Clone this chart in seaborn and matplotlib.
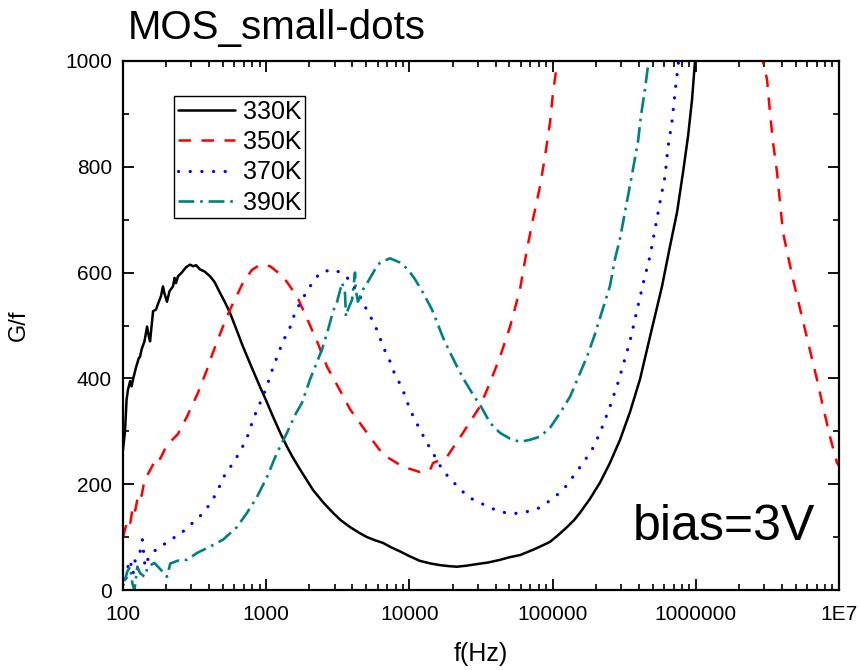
import numpy as np
import pandas as pd
import matplotlib
matplotlib.use("Agg")
import matplotlib.pyplot as plt
import matplotlib.ticker as mticker
import seaborn as sns

# ---------------- data (log10 of frequency in Hz, G/f) ----------------
k330_logf = [2.0, 2.014, 2.025, 2.035, 2.05, 2.06, 2.07, 2.09, 2.11, 2.119, 2.13, 2.15, 2.168, 2.18,
             2.189, 2.21, 2.23, 2.25, 2.265, 2.279, 2.29, 2.307, 2.325, 2.349, 2.36, 2.37, 2.384,
             2.41, 2.44, 2.468, 2.49, 2.51, 2.538, 2.57, 2.608, 2.64, 2.677, 2.71, 2.747, 2.79,
             2.838, 2.9, 2.957, 3.0, 3.047, 3.1, 3.145, 3.187, 3.25, 3.327, 3.4, 3.466, 3.52,
             3.585, 3.65, 3.704, 3.76, 3.816, 3.87, 3.934, 4.0, 4.074, 4.15, 4.214, 4.28, 4.332,
             4.4, 4.472, 4.55, 4.633, 4.7, 4.772, 4.863, 4.92, 4.982, 5.04, 5.101, 5.15, 5.191,
             5.26, 5.331, 5.4, 5.471, 5.54, 5.61, 5.69, 5.764, 5.82, 5.869, 5.911, 5.946, 5.974,
             5.994, 6.02]
k330_gf = [265, 300, 360, 379, 395, 385, 398, 420, 438, 441, 455, 470, 498, 480,
           470, 527, 530, 545, 555, 574, 560, 545, 565, 574, 590, 580, 593,
           600, 610, 615, 612, 614, 606, 602, 593, 582, 562, 545, 524, 494,
           460, 420, 384, 358, 328, 296, 271, 250, 222, 189, 165, 146, 132,
           119, 108, 100, 94, 89, 81, 73, 64, 55, 50, 47, 45, 44,
           46, 49, 52, 57, 62, 66, 76, 83, 91, 104, 119, 132, 146,
           172, 203, 240, 284, 336, 398, 490, 574, 650, 714, 790, 858, 928,
           998, 1080]

k350a_logf = [2.0, 2.02, 2.035, 2.05, 2.07, 2.085, 2.11, 2.13, 2.15, 2.18, 2.215, 2.24, 2.26, 2.29,
              2.33, 2.384, 2.447, 2.524, 2.587, 2.628, 2.698, 2.747, 2.838, 2.9, 2.957, 3.027,
              3.117, 3.215, 3.285, 3.355, 3.425, 3.502, 3.587, 3.704, 3.816, 3.955, 4.074, 4.144,
              4.165, 4.263, 4.374, 4.493, 4.563, 4.633, 4.703, 4.772, 4.821, 4.863, 4.912, 4.947,
              4.982, 5.003, 5.031, 5.06]
k350a_gf = [100, 120, 133, 125, 160, 150, 184, 178, 208, 222, 240, 252, 248, 265,
            280, 295, 328, 373, 417, 449, 498, 530, 581, 605, 615, 612,
            593, 555, 513, 470, 422, 384, 341, 297, 256, 233, 223, 227,
            240, 252, 297, 347, 392, 441, 498, 568, 644, 701, 763, 820,
            884, 941, 994, 1060]
k350b_logf = [6.44, 6.469, 6.497, 6.518, 6.539, 6.567, 6.588, 6.609, 6.644, 6.679, 6.763, 6.846,
              6.888, 6.937, 6.986, 7.0]
k350b_gf = [1060, 998, 966, 903, 847, 790, 733, 676, 631, 587, 492, 398,
            347, 290, 240, 235]

k370_logf = [2.0, 2.014, 2.03, 2.049, 2.07, 2.09, 2.119, 2.135, 2.154, 2.18, 2.21, 2.24, 2.272, 2.3,
             2.328, 2.36, 2.398, 2.447, 2.517, 2.587, 2.656, 2.698, 2.761, 2.817, 2.866, 2.901,
             2.936, 2.978, 3.013, 3.047, 3.082, 3.117, 3.166, 3.201, 3.25, 3.306, 3.376, 3.466,
             3.52, 3.564, 3.641, 3.69, 3.739, 3.781, 3.816, 3.865, 3.899, 3.948, 3.983, 4.025,
             4.074, 4.123, 4.179, 4.235, 4.318, 4.409, 4.507, 4.612, 4.703, 4.793, 4.891, 4.982,
             5.073, 5.142, 5.212, 5.275, 5.331, 5.401, 5.457, 5.54, 5.631, 5.68, 5.715, 5.75,
             5.785, 5.806, 5.834, 5.855, 5.876, 5.9]
k370_gf = [10, 6, 40, 57, 30, 65, 72, 95, 44, 62, 70, 80, 85, 88,
           91, 100, 104, 119, 133, 155, 184, 212, 237, 261, 288, 316,
           341, 366, 392, 420, 445, 470, 496, 524, 549, 574, 600, 606,
           600, 591, 562, 536, 511, 487, 460, 432, 407, 383, 356, 329,
           303, 278, 252, 225, 201, 176, 163, 150, 144, 146, 153, 169,
           189, 214, 240, 265, 297, 347, 392, 470, 578, 631, 682, 733,
           782, 837, 886, 941, 990, 1050]

k390_logf = [2.0, 2.014, 2.03, 2.05, 2.065, 2.08, 2.1, 2.119, 2.15, 2.175, 2.22, 2.265, 2.307, 2.33,
             2.398, 2.447, 2.517, 2.6, 2.698, 2.796, 2.866, 2.936, 3.006, 3.075, 3.145, 3.2,
             3.25, 3.306, 3.39, 3.432, 3.467, 3.495, 3.53, 3.55, 3.557, 3.571, 3.6, 3.62, 3.625,
             3.641, 3.676, 3.711, 3.76, 3.795, 3.865, 3.934, 3.99, 4.04, 4.095, 4.158, 4.193,
             4.235, 4.284, 4.333, 4.389, 4.445, 4.5, 4.563, 4.633, 4.703, 4.773, 4.843, 4.913,
             4.983, 5.053, 5.123, 5.193, 5.24, 5.29, 5.4, 5.435, 5.47, 5.505, 5.526, 5.561,
             5.596, 5.617, 5.645, 5.666, 5.7]
k390_gf = [20, 19, 35, 44, 13, 0, 44, 32, 25, 45, 51, 38, 25, 50,
           57, 57, 70, 81, 95, 119, 146, 176, 214, 259, 297, 330,
           354, 398, 455, 492, 527, 545, 581, 562, 517, 530, 549, 600, 568,
           545, 568, 583, 606, 619, 627, 619, 606, 587, 562, 530, 506,
           477, 449, 422, 394, 369, 347, 316, 297, 286, 280, 284, 290,
           307, 335, 366, 411, 441, 479, 574, 625, 663, 714, 744, 795,
           847, 896, 947, 990, 1060]

series_labels = ["330K", "350K", "370K", "390K"]
x_tick_values = [1e2, 1e3, 1e4, 1e5, 1e6, 1e7]
x_tick_labels = ["100", "1000", "10000", "100000", "1000000", "1E7"]
title_text = "MOS_small-dots"
annot_text = "bias=3V"

# ---------------- style ----------------
sns.set_style("ticks")
plt.rcParams["font.family"] = ["Liberation Sans", "DejaVu Sans"]
plt.rcParams["text.color"] = "black"
plt.rcParams["axes.labelcolor"] = "black"
plt.rcParams["xtick.color"] = "black"
plt.rcParams["ytick.color"] = "black"

fig = plt.figure(figsize=(8.61, 6.70), dpi=100)
ax = fig.add_axes([123 / 861, 1 - 590 / 670, 716 / 861, 529 / 670])

styles = {
    "330K": dict(color="black", linestyle="-", lw=1.8),
    "350K": dict(color="#FF0000", linestyle=(0, (5.0, 4.2)), lw=1.8),
    "370K": dict(color="#0000FF", linestyle=(0, (0.05, 3.6)), lw=2.3, dash_capstyle="round"),
    "390K": dict(color="#008080", linestyle=(0, (6.0, 2.2, 1.0, 2.2)), lw=1.9),
}


def draw(logf, gf, label, show):
    df = pd.DataFrame({"f": 10 ** np.asarray(logf, dtype=float), "G/f": gf})
    sns.lineplot(data=df, x="f", y="G/f", ax=ax, estimator=None, sort=False,
                 label=label if show else None, **styles[label])


draw(k330_logf, k330_gf, series_labels[0], True)
draw(k350a_logf, k350a_gf, series_labels[1], True)
draw(k350b_logf, k350b_gf, series_labels[1], False)
draw(k370_logf, k370_gf, series_labels[2], True)
draw(k390_logf, k390_gf, series_labels[3], True)

ax.set_xscale("log")
ax.set_xlim(1e2, 1e7)
ax.set_ylim(0, 1000)
ax.xaxis.set_major_locator(mticker.FixedLocator(x_tick_values))
ax.xaxis.set_major_formatter(mticker.FixedFormatter(x_tick_labels))
ax.xaxis.set_minor_locator(mticker.LogLocator(base=10, subs=np.arange(2, 10)))
ax.xaxis.set_minor_formatter(mticker.NullFormatter())
ax.yaxis.set_major_locator(mticker.MultipleLocator(200))
ax.yaxis.set_minor_locator(mticker.MultipleLocator(100))

ax.tick_params(which="both", direction="in", top=True, right=True,
               labelsize=15, colors="black")
ax.tick_params(axis="x", which="both", pad=11)
ax.tick_params(axis="y", which="both", pad=8)
ax.tick_params(which="major", length=8, width=1.3)
ax.tick_params(which="minor", length=4.5, width=1.2)
for s in ax.spines.values():
    s.set_linewidth(1.6)
    s.set_color("black")

ax.set_xlabel("f(Hz)", fontsize=18)
ax.set_ylabel("G/f", fontsize=17)
ax.xaxis.set_label_coords(0.5, (590 - 642) / 529)
ax.yaxis.set_label_coords((30 - 123) / 716, 0.5)

leg = ax.legend(loc="upper left", bbox_to_anchor=((174 - 123) / 716, (590 - 96) / 529),
                borderaxespad=0, fontsize=18, handlelength=2.3, handletextpad=0.3,
                labelspacing=0.25, borderpad=0.15, frameon=True, fancybox=False)
leg.get_frame().set_edgecolor("black")
leg.get_frame().set_linewidth(1.0)
leg.get_frame().set_alpha(1)

fig.text(128 / 861, 1 - 39 / 670, title_text, fontsize=29, ha="left", va="baseline")
fig.text(633 / 861, 1 - 540 / 670, annot_text, fontsize=36, ha="left", va="baseline")

fig.savefig("out.png", dpi=100)
